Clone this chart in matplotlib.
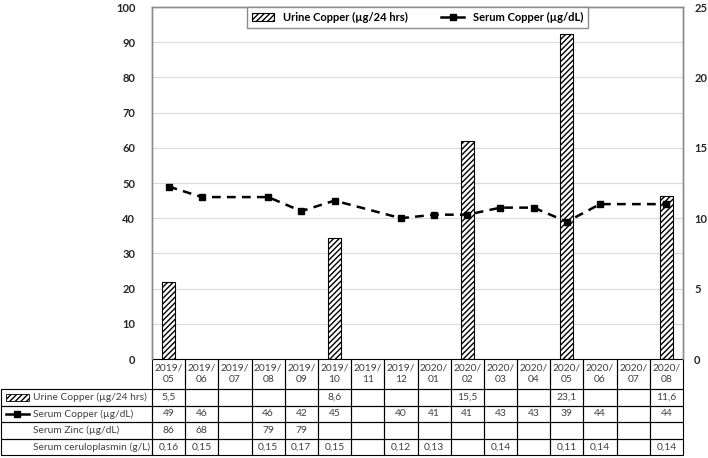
import matplotlib
matplotlib.use("Agg")
import matplotlib.pyplot as plt
import matplotlib.transforms as mtransforms
from matplotlib.patches import Rectangle
from matplotlib.lines import Line2D
import numpy as np

plt.rcParams['font.family'] = ['Lato', 'DejaVu Sans']
plt.rcParams['hatch.linewidth'] = 1.0

months = ['2019/\n05', '2019/\n06', '2019/\n07', '2019/\n08', '2019/\n09', '2019/\n10',
          '2019/\n11', '2019/\n12', '2020/\n01', '2020/\n02', '2020/\n03', '2020/\n04',
          '2020/\n05', '2020/\n06', '2020/\n07', '2020/\n08']
urine_copper = [5.5, None, None, None, None, 8.6, None, None, None, 15.5, None, None, 23.1, None, None, 11.6]
serum_copper = [49, 46, None, 46, 42, 45, None, 40, 41, 41, 43, 43, 39, 44, None, 44]
serum_zinc = [86, 68, None, 79, 79, None, None, None, None, None, None, None, None, None, None, None]
ceruloplasmin = [0.16, 0.15, None, 0.15, 0.17, 0.15, None, 0.12, 0.13, None, 0.14, None, 0.11, 0.14, None, 0.14]
row_labels = ['Urine Copper (\u00b5g/24 hrs)', 'Serum Copper (\u00b5g/dL)',
              'Serum Zinc (\u00b5g/dL)', 'Serum ceruloplasmin (g/L)']

W, H = 708, 458
fig = plt.figure(figsize=(W / 100, H / 100), dpi=100)
left_px, right_px, top_px, bot_px = 152, 683, 7, 359
ax_bar = fig.add_axes([left_px / W, 1 - bot_px / H, (right_px - left_px) / W, (bot_px - top_px) / H])
ax_line = ax_bar.twinx()

x = np.arange(len(months))
grid_c = '#d9d9d9'
edge_c = '#8c8c8c'
txt_c = '#404040'

# bars - right axis
bx = [i for i, v in enumerate(urine_copper) if v is not None]
bv = [v for v in urine_copper if v is not None]
ax_bar.bar(bx, bv, width=0.4, color='white', edgecolor='black', hatch='//////', linewidth=0.8, zorder=2)
ax_bar.set_ylim(0, 25)
ax_bar.set_xlim(-0.5, len(months) - 0.5)
ax_bar.yaxis.tick_right()
ax_bar.set_yticks(range(0, 26, 5))
ax_bar.set_yticks(np.arange(0, 25.1, 2.5), minor=True)
ax_bar.grid(axis='y', which='both', color=grid_c, linewidth=0.8, zorder=0)
ax_bar.set_axisbelow(True)
ax_bar.tick_params(axis='y', which='both', length=0, pad=8, labelsize=8)
ax_bar.set_xticks([])

# line - left axis
lx = [i for i, v in enumerate(serum_copper) if v is not None]
lv = [v for v in serum_copper if v is not None]
ax_line.plot(lx, lv, color='black', linestyle=(0, (3.5, 2.5)), linewidth=1.8,
             marker='s', markersize=5, zorder=3)
ax_line.set_ylim(0, 100)
ax_line.yaxis.tick_left()
ax_line.set_yticks(range(0, 101, 10))
ax_line.tick_params(axis='y', length=0, pad=12, labelsize=8)
ax_line.set_xticks([])

for a in (ax_bar, ax_line):
    for lab in a.get_yticklabels():
        lab.set_fontweight('bold')
        lab.set_color('#262626')
    for s in a.spines.values():
        s.set_color(edge_c)
        s.set_linewidth(1.0)
ax_bar.spines['bottom'].set_visible(False)
ax_line.spines['bottom'].set_visible(False)

# legend
h_bar = Rectangle((0, 0), 1, 1, facecolor='white', edgecolor='black', hatch='//////', linewidth=0.8)
h_line = Line2D([], [], color='black', linestyle='-', linewidth=1.8, marker='s', markersize=5)
leg = ax_line.legend([h_bar, h_line], ['Urine Copper (\u00b5g/24 hrs)', 'Serum Copper (\u00b5g/dL)'],
                     loc='upper center', bbox_to_anchor=(0.5, 1.0), ncol=2, fancybox=False,
                     framealpha=1, edgecolor=edge_c, borderaxespad=0, prop={'weight': 'bold', 'size': 8},
                     handlelength=2.0, columnspacing=3.0, borderpad=0.45)
leg.get_frame().set_linewidth(1.0)

# data table below the plot
ax_h = bot_px - top_px
def ay(px):
    return (bot_px - px) / ax_h

trans = mtransforms.blended_transform_factory(ax_line.transData, ax_line.transAxes)
header_top, header_bot = 359, 389
row_h = 16.5
lw = 0.8
label_left = (1 - left_px) / (right_px - left_px)
fs = 7.4

def cell(x0, x1, y0, y1, tr):
    ax_line.add_patch(Rectangle((x0, y1), x1 - x0, y0 - y1, transform=tr, fill=False,
                                edgecolor='black', linewidth=lw, clip_on=False))

for i, m in enumerate(months):
    cell(i - 0.5, i + 0.5, ay(header_top), ay(header_bot), trans)
    ax_line.text(i, ay((header_top + header_bot) / 2), m, transform=trans, ha='center', va='center',
                 fontsize=fs, color=txt_c, linespacing=1.4, clip_on=False)

rows = [
    [None if v is None else f"{v:.1f}".replace('.', ',') for v in urine_copper],
    [None if v is None else str(v) for v in serum_copper],
    [None if v is None else str(v) for v in serum_zinc],
    [None if v is None else f"{v:.2f}".replace('.', ',') for v in ceruloplasmin],
]
for r, (lab, vals) in enumerate(zip(row_labels, rows)):
    y0 = header_bot + r * row_h
    y1 = y0 + row_h
    yc = ay((y0 + y1) / 2)
    cell(label_left, 0, ay(y0), ay(y1), ax_line.transAxes)
    ax_line.text(label_left + 32 / (right_px - left_px), yc, lab, transform=ax_line.transAxes,
                 ha='left', va='center', fontsize=fs, color=txt_c, clip_on=False)
    for i, v in enumerate(vals):
        cell(i - 0.5, i + 0.5, ay(y0), ay(y1), trans)
        if v is not None:
            ax_line.text(i, yc, v, transform=trans, ha='center', va='center',
                         fontsize=fs, color=txt_c, clip_on=False)

# legend keys inside the table
kx0 = label_left + 5 / (right_px - left_px)
kx1 = label_left + 28 / (right_px - left_px)
yc0 = ay(header_bot + row_h / 2)
ax_line.add_patch(Rectangle((kx0, yc0 - 3.5 / ax_h), kx1 - kx0, 7 / ax_h, transform=ax_line.transAxes,
                            facecolor='white', edgecolor='black', hatch='//////', linewidth=0.6,
                            clip_on=False))
yc1 = ay(header_bot + row_h * 1.5)
ax_line.add_line(Line2D([kx0, kx1], [yc1, yc1], transform=ax_line.transAxes, color='black',
                        linewidth=1.8, clip_on=False))
ax_line.add_line(Line2D([(kx0 + kx1) / 2], [yc1], transform=ax_line.transAxes, color='black',
                        marker='s', markersize=5, clip_on=False))

fig.savefig('out.png', dpi=100)
